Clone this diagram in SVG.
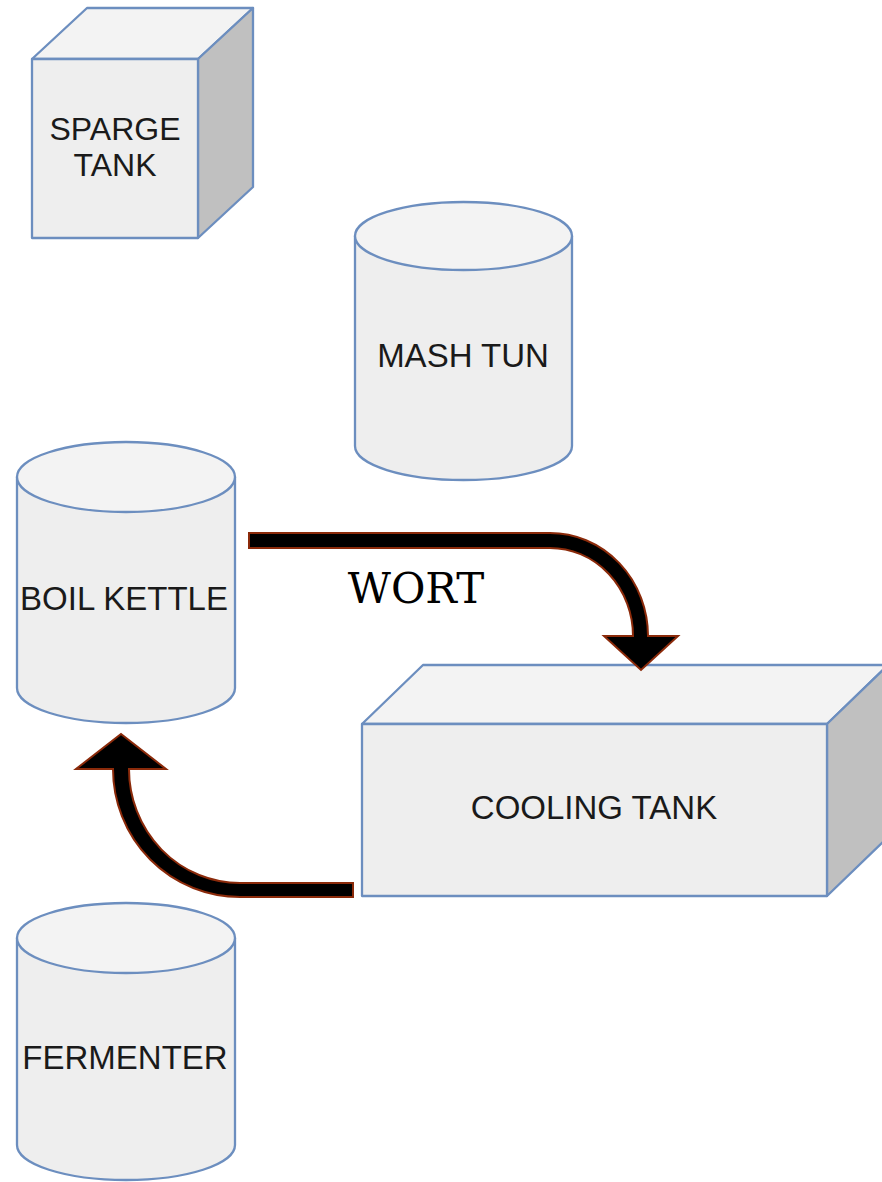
<svg xmlns="http://www.w3.org/2000/svg" width="882" height="1182" viewBox="0 0 882 1182">
  <style>
    .edge { stroke: #6c8ebf; stroke-width: 2.3; stroke-linejoin: round; }
    .front { fill: #eeeeee; }
    .top { fill: #f3f3f3; }
    .side { fill: #c0c0c0; }
    .label { font-family: "Liberation Sans", Arial, sans-serif; font-size: 33px; fill: #1a1a1a; text-anchor: middle; }
    .label.small { font-size: 32px; }
    .flow { fill: #000000; stroke: #8b2a0a; stroke-width: 2; stroke-linejoin: miter; }
    .flowlabel { font-family: "DejaVu Serif", "Liberation Serif", serif; font-size: 42px; fill: #000000; text-anchor: middle; }
  </style>
  <rect x="0" y="0" width="882" height="1182" fill="#ffffff"/>

  <!-- sparge tank (cube) -->
  <g id="sparge-tank">
    <polygon class="top edge" points="32,59 87,8 253,8 198,59"/>
    <polygon class="side edge" points="198,59 253,8 253,187 198,238"/>
    <rect class="front edge" x="32" y="59" width="166" height="179"/>
    <text class="label small" x="115" y="140">SPARGE</text>
    <text class="label small" x="115" y="176">TANK</text>
  </g>

  <!-- mash tun (cylinder) -->
  <g id="mash-tun">
    <path class="front edge" d="M 355 236 V 446 A 108.5 34 0 0 0 572 446 V 236 Z"/>
    <ellipse class="top edge" cx="463.5" cy="236" rx="108.5" ry="34"/>
    <text class="label" x="463" y="367">MASH TUN</text>
  </g>

  <!-- boil kettle (cylinder) -->
  <g id="boil-kettle">
    <path class="front edge" d="M 17 477 V 688 A 109 35 0 0 0 235 688 V 477 Z"/>
    <ellipse class="top edge" cx="126" cy="477" rx="109" ry="35"/>
    <text class="label" x="124" y="610">BOIL KETTLE</text>
  </g>

  <!-- cooling tank (box) -->
  <g id="cooling-tank">
    <polygon class="top edge" points="362,724 423,665 888,665 827,724"/>
    <polygon class="side edge" points="827,724 888,665 888,837 827,896"/>
    <rect class="front edge" x="362" y="724" width="465" height="172"/>
    <text class="label" x="594" y="819">COOLING TANK</text>
  </g>

  <!-- fermenter (cylinder) -->
  <g id="fermenter">
    <path class="front edge" d="M 17 938 V 1145 A 109 35 0 0 0 235 1145 V 938 Z"/>
    <ellipse class="top edge" cx="126" cy="938" rx="109" ry="35"/>
    <text class="label" x="125" y="1069">FERMENTER</text>
  </g>

  <!-- flow arrows -->
  <g id="connectors">
    <path id="wort-flow" class="flow" d="M 249 533 H 550 A 98 103 0 0 1 648 636 H 678 L 641 670 L 604 636 H 633 A 83 88 0 0 0 550 548 H 249 Z"/>
    <text class="flowlabel" x="416" y="603">WORT</text>
    <path id="return-flow" class="flow" d="M 353 883 H 240 A 111 114 0 0 1 129 769 H 166 L 121 734 L 76 769 H 113 A 127 128 0 0 0 240 897 H 353 Z"/>
  </g>
</svg>
